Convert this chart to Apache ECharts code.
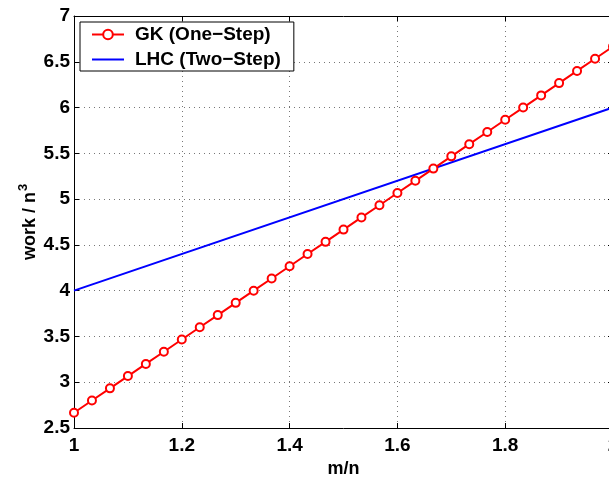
<!DOCTYPE html>
<html>
<head>
<meta charset="utf-8">
<script src="https://cdn.jsdelivr.net/npm/echarts@6/dist/echarts.min.js"></script>
<style>html,body{margin:0;padding:0;background:#fff;overflow:hidden;width:609px;height:483px;}#c{width:625px;height:483px;}</style>
</head>
<body>
<div id="c"></div>
<script>
var gkX = [1.0, 1.0333, 1.0667, 1.1, 1.1333, 1.1667, 1.2, 1.2333, 1.2667, 1.3, 1.3333, 1.3667, 1.4, 1.4333, 1.4667, 1.5, 1.5333, 1.5667, 1.6, 1.6333, 1.6667, 1.7, 1.7333, 1.7667, 1.8, 1.8333, 1.8667, 1.9, 1.9333, 1.9667, 2.0];
var gkY = [2.667, 2.800, 2.933, 3.067, 3.200, 3.333, 3.467, 3.600, 3.733, 3.867, 4.000, 4.133, 4.267, 4.400, 4.533, 4.667, 4.800, 4.933, 5.067, 5.200, 5.333, 5.467, 5.600, 5.733, 5.867, 6.000, 6.133, 6.267, 6.400, 6.533, 6.667];
var lhcX = [1.0, 2.0];
var lhcY = [4.0, 6.0];
var xTicks = [1, 1.2, 1.4, 1.6, 1.8, 2];
var yTicks = [2.5, 3, 3.5, 4, 4.5, 5, 5.5, 6, 6.5, 7];

function pairs(xs, ys) { return xs.map(function (x, i) { return [x, ys[i]]; }); }

var font = 'Liberation Sans, Arial, Helvetica, sans-serif';
var chart = echarts.init(document.getElementById('c'), null, { renderer: 'canvas' });
var gridStyle = { show: true, lineStyle: { color: '#777', type: [1, 4], width: 1 } };
chart.setOption({
  animation: false,
  backgroundColor: '#fff',
  grid: { left: 74, top: 16, width: 539, height: 426, containLabel: false },
  legend: {
    left: 80, top: 22, orient: 'vertical',
    backgroundColor: '#fff', borderColor: '#000', borderWidth: 1, borderRadius: 0,
    padding: [3, 13, 2, 11],
    itemWidth: 32, itemHeight: 12, itemGap: 6,
    textStyle: { fontFamily: font, fontWeight: 'bold', fontSize: 19, color: '#000', padding: [0, 0, 0, 6] },
    data: [
      { name: 'GK (One\u2212Step)' },
      { name: 'LHC (Two\u2212Step)', itemStyle: { opacity: 0 } }
    ]
  },
  xAxis: [{
    type: 'value', min: 1, max: 2, interval: 0.2,
    name: 'm/n', nameLocation: 'middle', nameGap: 32, nameMoveOverlap: false,
    nameTextStyle: { fontFamily: font, fontWeight: 'bold', fontSize: 18, color: '#000' },
    axisLine: { show: true, onZero: false, lineStyle: { color: '#000', width: 1 } },
    axisTick: { show: true, inside: true, length: 5, lineStyle: { color: '#000' } },
    axisLabel: { fontFamily: font, fontWeight: 'bold', fontSize: 19, color: '#000', margin: 8,
      formatter: function (v) { return String(Math.round(v * 10) / 10); } },
    splitLine: gridStyle
  }, {
    type: 'value', min: 1, max: 2, interval: 0.2, position: 'top',
    axisLine: { show: true, onZero: false, lineStyle: { color: '#000', width: 1 } },
    axisTick: { show: true, inside: true, length: 5, lineStyle: { color: '#000' } },
    axisLabel: { show: false }, splitLine: { show: false }
  }],
  yAxis: [{
    type: 'value', min: 2.5, max: 7, interval: 0.5,
    name: '{a|work / n}{s|3}', nameLocation: 'middle', nameGap: 35, nameRotate: 90, nameMoveOverlap: false,
    nameTextStyle: { fontFamily: font, fontWeight: 'bold', fontSize: 18, color: '#000',
      rich: {
        a: { fontFamily: font, fontWeight: 'bold', fontSize: 18, color: '#000', verticalAlign: 'bottom', lineHeight: 22 },
        s: { fontFamily: font, fontWeight: 'bold', fontSize: 13, color: '#000', verticalAlign: 'top', lineHeight: 22, padding: [0, 0, 9, 1] }
      } },
    axisLine: { show: true, onZero: false, lineStyle: { color: '#000', width: 1 } },
    axisTick: { show: true, inside: true, length: 5, lineStyle: { color: '#000' } },
    axisLabel: { fontFamily: font, fontWeight: 'bold', fontSize: 19, color: '#000', margin: 4 },
    splitLine: gridStyle
  }, {
    type: 'value', min: 2.5, max: 7, interval: 0.5, position: 'right',
    axisLine: { show: true, onZero: false, lineStyle: { color: '#000', width: 1 } },
    axisTick: { show: true, inside: true, length: 5, lineStyle: { color: '#000' } },
    axisLabel: { show: false }, splitLine: { show: false }
  }],
  series: [{
    name: 'GK (One\u2212Step)', type: 'line', data: pairs(gkX, gkY),
    symbol: 'emptyCircle', symbolSize: 8, showAllSymbol: true,
    lineStyle: { color: '#ff0000', width: 2 },
    itemStyle: { color: '#ff0000', borderColor: '#ff0000', borderWidth: 2 },
    z: 3
  }, {
    name: 'LHC (Two\u2212Step)', type: 'line', data: pairs(lhcX, lhcY),
    symbol: 'none', lineStyle: { color: '#0000ff', width: 2 },
    itemStyle: { color: '#0000ff' }, z: 2
  }]
});
</script>
</body>
</html>
